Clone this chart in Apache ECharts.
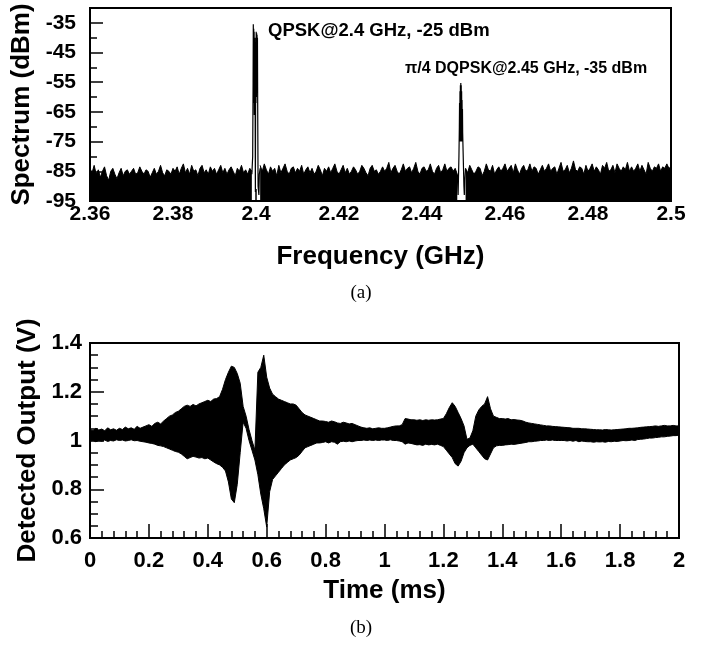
<!DOCTYPE html>
<html>
<head>
<meta charset="utf-8">
<script src="https://cdn.jsdelivr.net/npm/echarts@6/dist/echarts.min.js"></script>
<style>
  html, body { margin: 0; padding: 0; background: #fff; }
  #chart { width: 702px; height: 648px; }
</style>
</head>
<body>
<div id="chart"></div>
<script>
// ---------- (a) spectrum ----------
const specStart = 2.36;
const specStep = 0.0005; // GHz per sample
// upper edge of the noise floor (dBm); null = gap under the carriers
const noiseDbm = [
  -84,-85.5,-83,-86,-84.5,-87,-85,-83.5,-86.5,-88,-85,-84,-86,-87.5,-85.5,-84,-86.5,-85,-84.5,-86,-85,
  -84,-86,-85.5,-83.5,-85,-86,-84.5,-85,-87,-85.5,-84,-86,-85,-83,-85.5,-86.5,-84.5,-85,-86,-84,
  -85,-83.5,-86,-84,-82.5,-85.5,-84,-86,-83,-85,-84.5,-86.5,-84,-83,-85.5,-84.5,-86,-83.5,-85,-84,
  -86,-84.5,-83,-85.5,-84,-86,-84.5,-83.5,-85,-86.5,-84,-85,-83,-85.5,-84.5,-86,-84,-85,null,null,
  null,-83,-85,-82.5,-84.5,-86,-83.5,-85,-84,-86.5,-83,-85.5,-84,-82.5,-85,-86,-84,-83.5,-85.5,-84,
  -85,-83,-86,-84.5,-83.5,-85.5,-84,-86,-85,-83,-84.5,-86.5,-84,-85,-83.5,-85.5,-84,-82.5,-85,-86,
  -84.5,-83,-85.5,-84,-86,-85,-83.5,-84.5,-86,-85,-83,-84,-85.5,-86.5,-84,-83,-85,-84.5,-86,-85,
  -83.5,-85,-84,-82,-85.5,-84,-83,-85,-86,-84.5,-82.5,-85,-84,-83.5,-85.5,-84,-82,-85,-86,-84,
  -83.5,-85,-84.5,-82.5,-85,-86,-84,-83,-85.5,-84.5,-82.5,-85,-84,-83.5,-85,-84,-86,null,null,null,
  -84,-85.5,-83,-84.5,-86,-85,-83.5,-84,-86.5,-85,-82.5,-84.5,-85,-83,-86,-84.5,-83.5,-85,-84,-82.5,
  -85,-84,-83,-85.5,-82.5,-84.5,-86,-84,-83,-85,-84.5,-82.5,-85,-83.5,-84,-86,-84.5,-83,-85,-84,
  -82.5,-85,-84,-83.5,-86,-84,-82,-85,-84.5,-83,-85.5,-84,-81.5,-84.5,-85,-83.5,-84,-86,-83,-85,
  -84,-82.5,-85,-83.5,-84.5,-86,-83,-84,-82,-85,-84.5,-83,-85.5,-82.5,-84,-85,-83.5,-84.5,-82,-85,
  -83.5,-85,-84,-82.5,-85,-83,-84.5,-86,-82,-84,-85,-83.5,-84,-82.5,-85,-83.5,-84,-82.5,-84,-83.5
];
// QPSK carrier at 2.4 GHz (trace inside the carrier band)
const peak1Freq = [2.3990,2.3992,2.3993,2.39935,2.3994,2.39945,2.3995,2.39955,2.3996,2.39965,2.3997,2.39975,2.3998,2.39985,2.3999,2.39995,2.4000,2.40005,2.4001,2.40015,2.4002,2.40025,2.4003,2.40035,2.4004,2.40045,2.4005,2.4007,2.4008,2.4010];
const peak1Dbm  = [-86,-80,-55,-35.5,-50,-37,-62,-38,-66,-40,-64,-42,-67,-92,-66,-40,-62,-38,-60,-38.5,-58,-39,-55,-40,-60,-75,-90,-93,-86,-84];
// pi/4 DQPSK carrier at 2.45 GHz
const peak2Freq = [2.4485,2.4487,2.4489,2.4490,2.44905,2.4491,2.44915,2.4492,2.44925,2.4493,2.44935,2.4494,2.44945,2.4495,2.44955,2.4496,2.44965,2.4497,2.44975,2.4498,2.4499,2.4500,2.4501,2.4502,2.4503,2.4505];
const peak2Dbm  = [-86,-93,-80,-70,-62,-74,-58,-75,-56,-74,-55.3,-75,-56,-74,-58,-75,-61,-74,-64,-72,-78,-84,-90,-93,-88,-84];

// ---------- (b) detected output ----------
const timeStart = 0;
const timeStep = 0.01; // ms per sample
const envUpper = [
  1.045,1.04,1.05,1.043,1.047,1.04,1.052,1.044,1.048,1.042,
  1.05,1.045,1.055,1.048,1.052,1.046,1.058,1.05,1.055,1.06,
  1.065,1.058,1.07,1.075,1.068,1.08,1.09,1.1,1.105,1.115,
  1.12,1.13,1.14,1.145,1.14,1.148,1.142,1.15,1.155,1.16,
  1.165,1.16,1.17,1.172,1.18,1.21,1.25,1.28,1.305,1.3,
  1.275,1.235,1.14,1.1,1.045,1.0,0.96,1.28,1.3,1.35,
  1.26,1.215,1.19,1.18,1.17,1.165,1.16,1.155,1.15,1.15,
  1.145,1.13,1.115,1.105,1.1,1.095,1.09,1.085,1.08,1.08,
  1.078,1.075,1.08,1.077,1.072,1.07,1.075,1.072,1.068,1.07,
  1.065,1.06,1.055,1.052,1.05,1.052,1.048,1.05,1.052,1.05,
  1.05,1.052,1.055,1.058,1.06,1.06,1.065,1.09,1.088,1.085,
  1.085,1.083,1.085,1.082,1.085,1.083,1.085,1.084,1.085,1.088,
  1.09,1.11,1.135,1.155,1.14,1.115,1.09,1.06,1.005,1.01,
  1.04,1.10,1.125,1.14,1.15,1.18,1.13,1.10,1.095,1.09,
  1.09,1.088,1.09,1.085,1.086,1.084,1.083,1.08,1.075,1.072,
  1.07,1.068,1.066,1.064,1.062,1.06,1.06,1.058,1.057,1.056,
  1.055,1.054,1.053,1.052,1.05,1.05,1.05,1.048,1.048,1.047,
  1.046,1.045,1.044,1.044,1.043,1.045,1.044,1.043,1.044,1.045,
  1.046,1.047,1.048,1.05,1.05,1.051,1.052,1.054,1.055,1.056,
  1.057,1.058,1.06,1.058,1.06,1.062,1.06,1.06,1.062,1.06,
  1.06
];
const envLower = [
  0.998,1.0,0.995,1.0,0.997,1.002,0.996,1.0,0.998,1.003,
  1.0,1.002,0.998,1.0,1.003,0.999,1.0,0.997,0.995,0.993,
  0.99,0.988,0.985,0.98,0.978,0.975,0.97,0.965,0.96,0.955,
  0.952,0.945,0.935,0.925,0.93,0.935,0.932,0.928,0.93,0.925,
  0.928,0.92,0.912,0.905,0.9,0.89,0.875,0.83,0.76,0.745,
  0.82,0.95,1.075,1.05,1.0,0.96,0.92,0.86,0.78,0.72,
  0.645,0.79,0.84,0.855,0.87,0.885,0.9,0.91,0.92,0.925,
  0.93,0.94,0.955,0.97,0.975,0.98,0.985,0.99,0.99,0.992,
  0.995,0.99,0.995,0.993,0.985,0.995,0.997,0.995,0.998,0.995,
  0.998,1.0,1.0,1.002,1.0,1.002,1.0,1.002,1.0,1.002,
  1.002,1.0,1.003,1.0,1.0,0.998,0.995,0.985,0.99,0.988,
  0.985,0.982,0.983,0.98,0.985,0.982,0.984,0.982,0.985,0.98,
  0.975,0.96,0.945,0.93,0.905,0.895,0.915,0.95,0.97,0.98,
  0.985,0.97,0.955,0.94,0.925,0.92,0.945,0.97,0.978,0.98,
  0.98,0.982,0.983,0.985,0.984,0.986,0.988,0.99,0.992,0.995,
  0.995,0.997,0.998,1.0,1.0,1.002,1.0,1.002,1.0,1.0,
  1.0,1.0,0.998,1.0,0.997,1.0,0.995,0.998,0.996,0.995,
  0.995,0.993,0.995,0.994,0.995,0.993,0.996,0.995,0.997,0.996,
  0.998,1.0,0.999,1.0,1.002,1.0,1.004,1.005,1.006,1.008,
  1.01,1.01,1.012,1.013,1.015,1.015,1.017,1.018,1.02,1.02,
  1.022
];

const annotations = ['QPSK@2.4 GHz, -25 dBm', 'π/4 DQPSK@2.45 GHz, -35 dBm'];
const panelLabels = ['(a)', '(b)'];

// ---------- build ----------
const SANS = '"Liberation Sans", Arial, sans-serif';
const SERIF = '"Liberation Serif", "Times New Roman", serif';

const noiseData = noiseDbm.map((v, i) => [+(specStart + i * specStep).toFixed(4), v === null ? '-' : v]);
const peak1Data = peak1Freq.map((f, i) => [f, peak1Dbm[i]]);
const peak2Data = peak2Freq.map((f, i) => [f, peak2Dbm[i]]);
const envRows = envUpper.map((u, i) => [+(timeStart + i * timeStep).toFixed(2), envLower[i], u]);

const axisLineStyle = { show: true, lineStyle: { color: '#000', width: 2 } };
const fmtNum = v => String(+(+v).toFixed(3));

function renderEnvelope(params, api) {
  if (params.dataIndex !== 0) return null;
  const pts = [];
  for (let i = 0; i < envRows.length; i++) pts.push(api.coord([envRows[i][0], envRows[i][2]]));
  for (let i = envRows.length - 1; i >= 0; i--) pts.push(api.coord([envRows[i][0], envRows[i][1]]));
  return {
    type: 'polygon',
    shape: { points: pts },
    style: { fill: '#000', stroke: '#000', lineWidth: 1 }
  };
}

const chart = echarts.init(document.getElementById('chart'), null, { renderer: 'canvas' });
chart.setOption({
  animation: false,
  backgroundColor: '#fff',
  grid: [
    { left: 90, top: 8, width: 581, height: 193, show: true, borderColor: '#000', borderWidth: 2, backgroundColor: 'transparent' },
    { left: 90, top: 343, width: 589, height: 195, show: true, borderColor: '#000', borderWidth: 2, backgroundColor: 'transparent' }
  ],
  xAxis: [
    {
      gridIndex: 0, type: 'value', min: 2.36, max: 2.5, interval: 0.02,
      name: 'Frequency (GHz)', nameLocation: 'middle', nameGap: 43,
      nameTextStyle: { fontFamily: SANS, fontWeight: 'bold', fontSize: 26, color: '#000' },
      axisLine: axisLineStyle,
      axisTick: { show: true, inside: true, length: 12, lineStyle: { color: '#000', width: 1.5 } },
      axisLabel: { fontFamily: SANS, fontWeight: 'bold', fontSize: 21, color: '#000', margin: 3, formatter: fmtNum },
      splitLine: { show: false }
    },
    {
      gridIndex: 1, type: 'value', min: 0, max: 2, interval: 0.2,
      name: 'Time (ms)', nameLocation: 'middle', nameGap: 40,
      nameTextStyle: { fontFamily: SANS, fontWeight: 'bold', fontSize: 26, color: '#000' },
      axisLine: axisLineStyle,
      axisTick: { show: true, inside: true, length: 14, lineStyle: { color: '#000', width: 1.5 } },
      minorTick: { show: true, splitNumber: 5, length: 7, lineStyle: { color: '#000', width: 1.5 } },
      axisLabel: { fontFamily: SANS, fontWeight: 'bold', fontSize: 22, color: '#000', margin: 12, formatter: fmtNum },
      splitLine: { show: false }
    }
  ],
  yAxis: [
    {
      gridIndex: 0, type: 'value', min: -95, max: -30, interval: 10,
      name: 'Spectrum (dBm)', nameLocation: 'middle', nameGap: 48,
      nameTextStyle: { fontFamily: SANS, fontWeight: 'bold', fontSize: 26, color: '#000' },
      axisLine: axisLineStyle,
      axisTick: { show: true, inside: true, length: 13, lineStyle: { color: '#000', width: 1.5 } },
      minorTick: { show: true, splitNumber: 2, length: 7, lineStyle: { color: '#000', width: 1.5 } },
      axisLabel: { fontFamily: SANS, fontWeight: 'bold', fontSize: 21, color: '#000', margin: 14, showMaxLabel: false, formatter: fmtNum },
      splitLine: { show: false }
    },
    {
      gridIndex: 1, type: 'value', min: 0.6, max: 1.4, interval: 0.2,
      name: 'Detected Output (V)', nameLocation: 'middle', nameGap: 49,
      nameTextStyle: { fontFamily: SANS, fontWeight: 'bold', fontSize: 26, color: '#000' },
      axisLine: axisLineStyle,
      axisTick: { show: true, inside: true, length: 14, lineStyle: { color: '#000', width: 1.5 } },
      minorTick: { show: true, splitNumber: 4, length: 8, lineStyle: { color: '#000', width: 1.5 } },
      axisLabel: { fontFamily: SANS, fontWeight: 'bold', fontSize: 22, color: '#000', margin: 8, formatter: fmtNum },
      splitLine: { show: false }
    }
  ],
  series: [
    {
      name: 'noise', type: 'line', xAxisIndex: 0, yAxisIndex: 0, data: noiseData,
      symbol: 'none', connectNulls: false, clip: true,
      lineStyle: { color: '#000', width: 1 },
      areaStyle: { color: '#000', opacity: 1, origin: 'start' }
    },
    {
      name: 'QPSK', type: 'line', xAxisIndex: 0, yAxisIndex: 0, data: peak1Data,
      symbol: 'none', lineStyle: { color: '#000', width: 1.2 }
    },
    {
      name: 'DQPSK', type: 'line', xAxisIndex: 0, yAxisIndex: 0, data: peak2Data,
      symbol: 'none', lineStyle: { color: '#000', width: 1.2 }
    },
    {
      name: 'detected', type: 'custom', xAxisIndex: 1, yAxisIndex: 1,
      data: envRows, encode: { x: 0, y: [1, 2] },
      renderItem: renderEnvelope, clip: true
    }
  ],
  graphic: [
    { type: 'text', x: 268, y: 31, style: { text: annotations[0], font: 'bold 18.5px ' + SANS, fill: '#000', align: 'left', verticalAlign: 'middle', textAlign: 'left', textVerticalAlign: 'middle' } },
    { type: 'text', x: 405, y: 69, style: { text: annotations[1], font: 'bold 16px ' + SANS, fill: '#000', align: 'left', verticalAlign: 'middle', textAlign: 'left', textVerticalAlign: 'middle' } },
    { type: 'text', x: 361, y: 293, style: { text: panelLabels[0], font: '19px ' + SERIF, fill: '#000', align: 'center', verticalAlign: 'middle', textAlign: 'center', textVerticalAlign: 'middle' } },
    { type: 'text', x: 361, y: 628, style: { text: panelLabels[1], font: '19px ' + SERIF, fill: '#000', align: 'center', verticalAlign: 'middle', textAlign: 'center', textVerticalAlign: 'middle' } }
  ]
});
</script>
</body>
</html>
